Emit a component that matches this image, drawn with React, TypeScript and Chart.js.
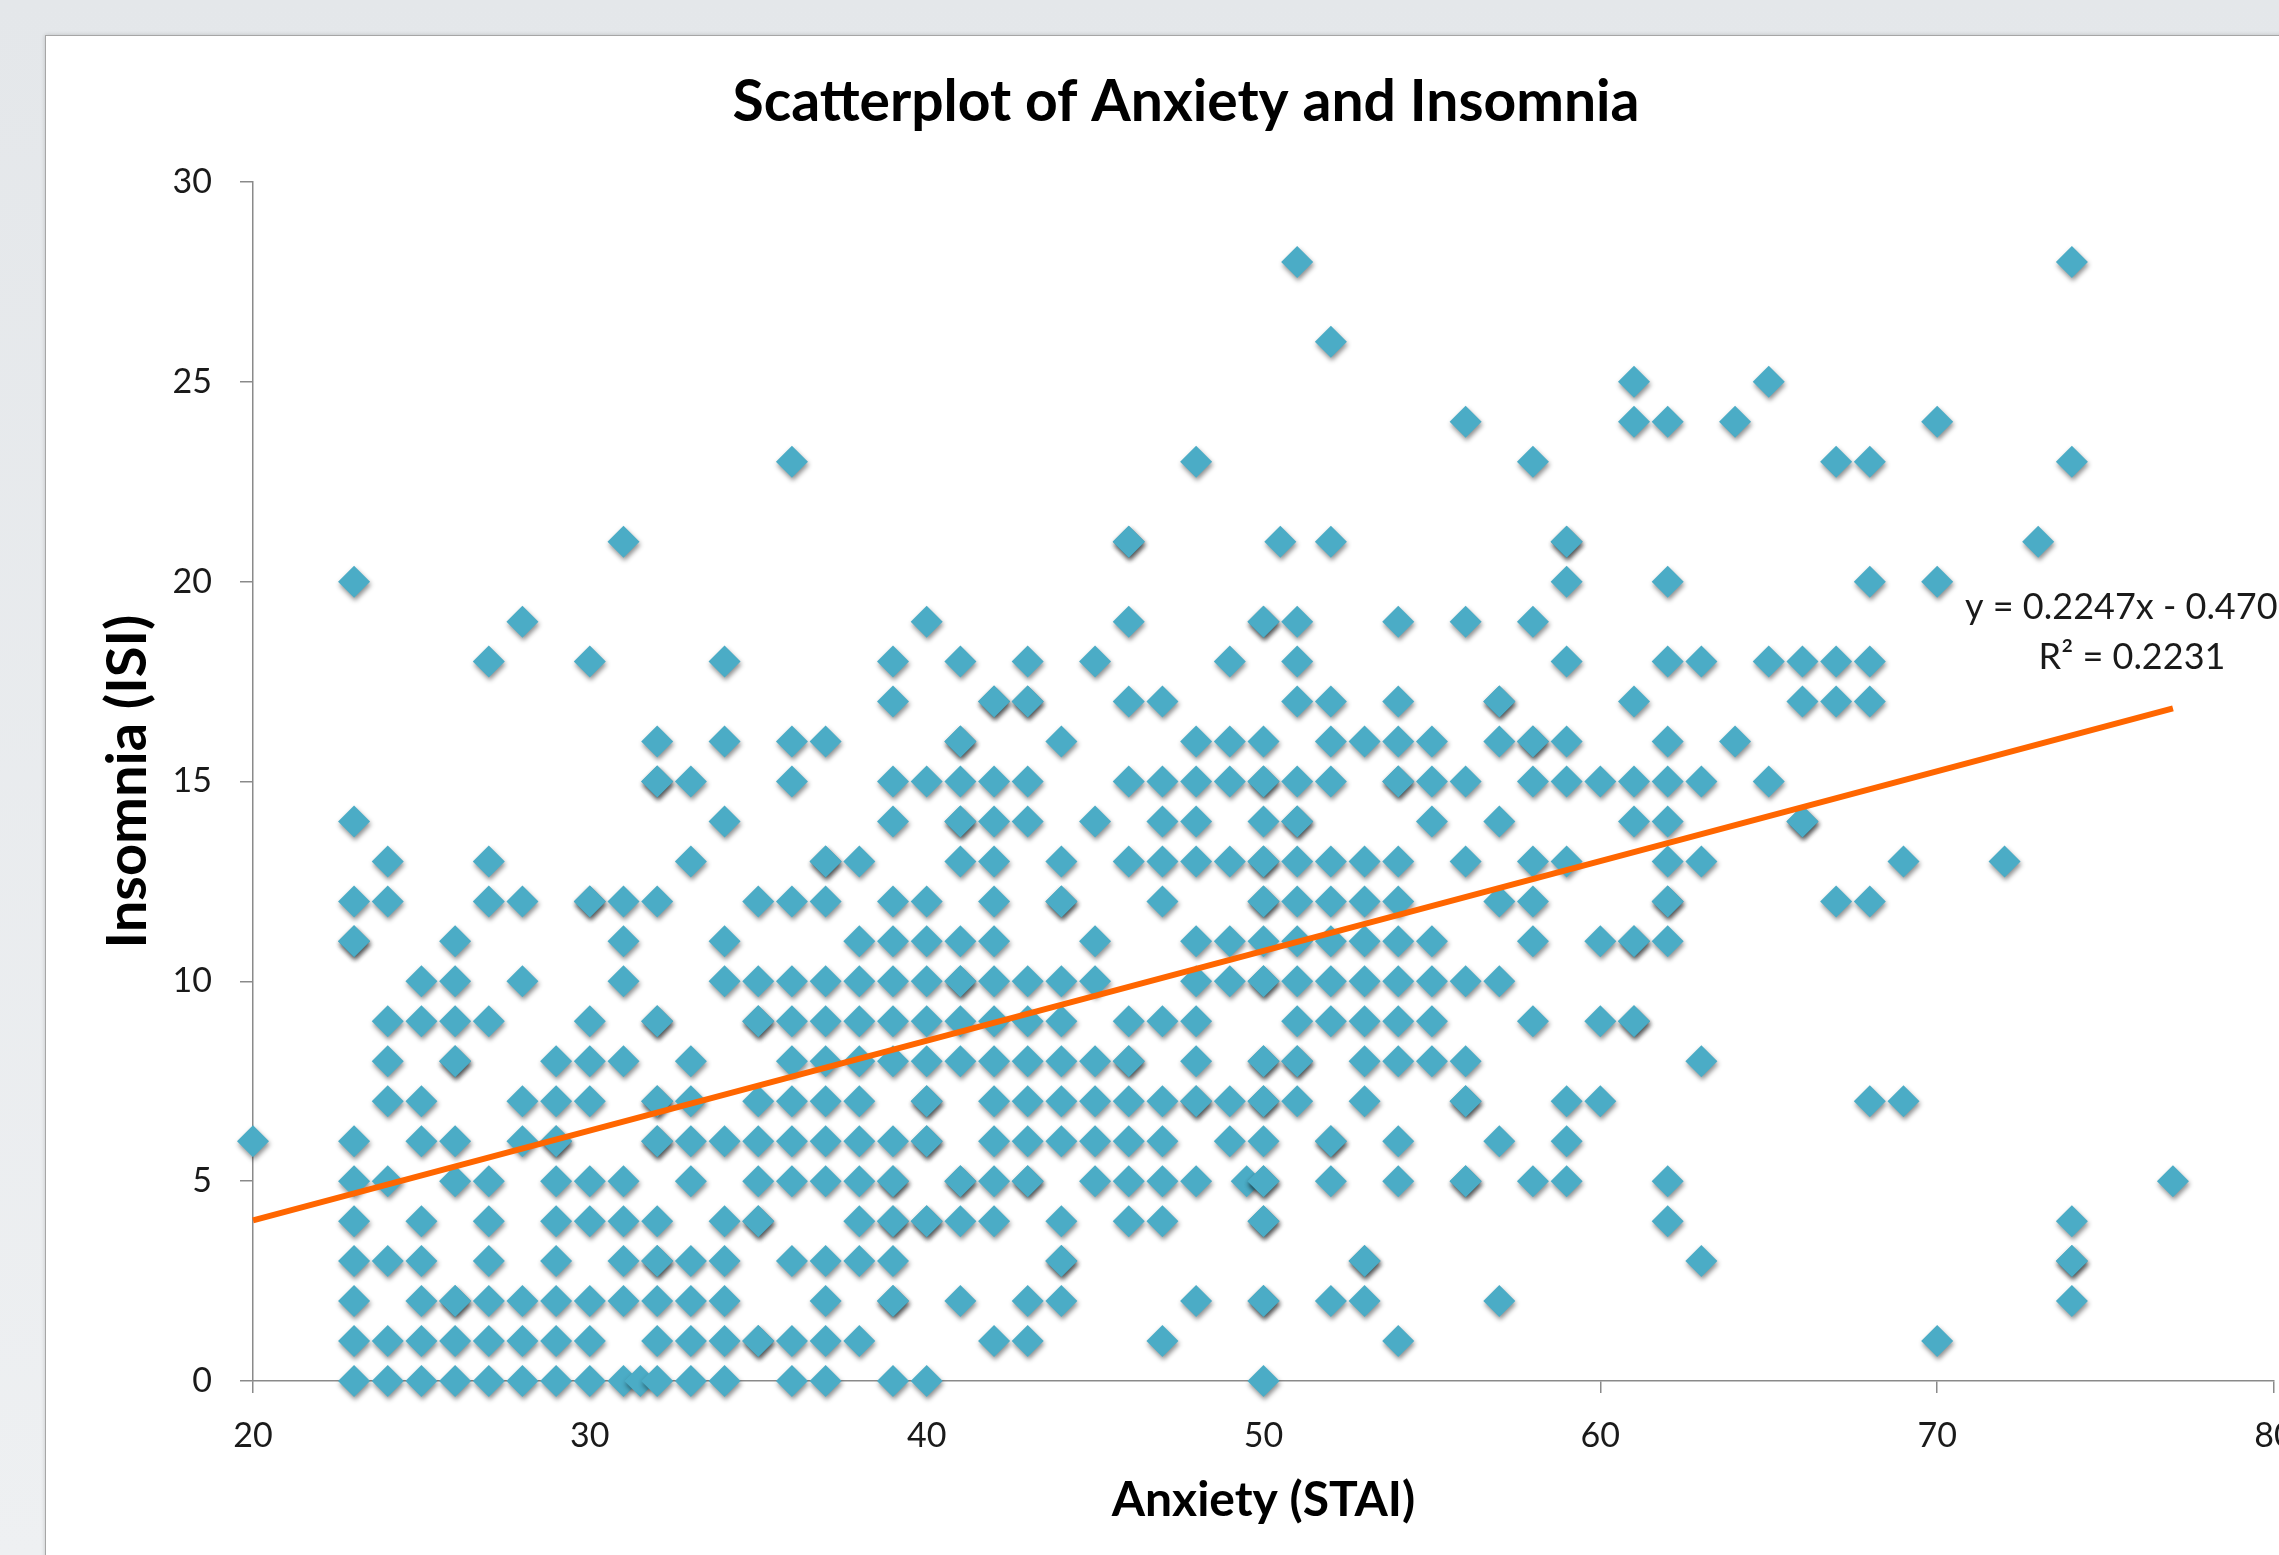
import { useEffect, useRef } from 'react';
import { Chart, registerables } from 'chart.js';

Chart.register(...registerables);

// ---------- data ----------
const chartTitle = 'Scatterplot of Anxiety and Insomnia';
const xAxisTitle = 'Anxiety (STAI)';
const yAxisTitle = 'Insomnia (ISI)';
const trendEquation = 'y = 0.2247x - 0.470';
const trendRSquared = 'R\u00B2 = 0.2231';

// anxiety (STAI) scores, one entry per column of markers
const anxietyScores = [
  20, 23, 24, 25, 26, 27, 28, 29, 30, 31, 31.5, 32, 33, 34, 35, 36, 37, 38, 39, 40,
  41, 42, 43, 44, 45, 46, 47, 48, 49, 49.5, 50, 50.5, 51, 52, 53, 54, 55, 56, 57, 58,
  59, 60, 61, 62, 63, 64, 65, 66, 67, 68, 69, 70, 72, 73, 74, 77,
];

// insomnia (ISI) scores observed at each anxiety score above
const insomniaScores = [
  [6],
  [20, 14, 12, 11, 11, 6, 5, 4, 3, 2, 1, 0],
  [13, 12, 9, 8, 7, 5, 3, 1, 0],
  [10, 9, 7, 6, 4, 3, 2, 1, 0],
  [11, 10, 9, 8, 8, 6, 5, 2, 2, 1, 0],
  [18, 13, 12, 9, 5, 4, 3, 2, 1, 0],
  [19, 12, 10, 7, 6, 2, 1, 0],
  [8, 7, 6, 6, 5, 4, 3, 2, 1, 0],
  [18, 12, 12, 9, 8, 7, 5, 4, 2, 1, 0],
  [21, 12, 11, 10, 8, 5, 4, 3, 2, 0],
  [0],
  [16, 15, 15, 12, 9, 9, 7, 7, 6, 6, 4, 3, 3, 2, 1, 0],
  [15, 13, 8, 7, 6, 5, 3, 2, 1, 0],
  [18, 16, 14, 11, 10, 6, 4, 3, 2, 1, 0],
  [12, 10, 9, 9, 7, 6, 5, 4, 4, 1, 1],
  [23, 16, 15, 12, 10, 9, 8, 7, 6, 5, 3, 1, 0],
  [16, 13, 13, 12, 10, 9, 8, 7, 6, 5, 3, 2, 1, 0],
  [13, 11, 10, 9, 8, 7, 6, 5, 4, 3, 1],
  [18, 17, 15, 14, 12, 11, 10, 9, 8, 6, 5, 5, 4, 4, 3, 2, 2, 0],
  [19, 15, 12, 11, 10, 9, 8, 7, 7, 6, 6, 4, 4, 0],
  [18, 16, 16, 15, 14, 14, 13, 11, 10, 10, 9, 8, 5, 5, 4, 2],
  [17, 17, 15, 14, 13, 12, 11, 10, 9, 8, 7, 6, 5, 4, 1],
  [18, 17, 17, 15, 14, 10, 9, 8, 7, 6, 5, 5, 2, 1],
  [16, 13, 12, 12, 10, 9, 8, 7, 6, 4, 3, 3, 2],
  [18, 14, 11, 10, 8, 7, 6, 5],
  [21, 21, 19, 17, 15, 13, 9, 8, 8, 7, 6, 5, 4],
  [17, 15, 14, 13, 12, 9, 7, 6, 5, 4, 1],
  [23, 16, 15, 14, 13, 11, 10, 9, 8, 7, 7, 5, 2],
  [18, 16, 15, 13, 11, 10, 7, 6],
  [5],
  [19, 19, 16, 15, 15, 14, 13, 13, 12, 12, 11, 10, 10, 8, 8, 7, 7, 6, 5, 5, 4, 4, 2, 2, 0],
  [21],
  [28, 19, 18, 17, 15, 14, 14, 13, 12, 11, 10, 9, 8, 8, 7],
  [26, 21, 17, 16, 15, 13, 12, 11, 10, 9, 6, 6, 5, 2],
  [16, 13, 12, 11, 10, 9, 8, 7, 3, 3, 2],
  [19, 17, 16, 15, 15, 13, 12, 11, 10, 9, 8, 6, 5, 1],
  [16, 15, 14, 11, 10, 9, 8],
  [24, 19, 15, 13, 10, 8, 7, 7, 5, 5],
  [17, 17, 16, 14, 12, 10, 6, 2],
  [23, 19, 16, 16, 15, 13, 12, 11, 9, 5],
  [21, 21, 20, 18, 16, 15, 13, 7, 6, 5],
  [15, 11, 9, 7],
  [25, 24, 17, 15, 14, 11, 11, 9, 9],
  [24, 20, 18, 16, 15, 14, 13, 12, 12, 11, 5, 4],
  [18, 15, 13, 8, 3],
  [24, 16],
  [25, 18, 15],
  [18, 17, 14, 14],
  [23, 18, 17, 12],
  [23, 20, 18, 17, 12, 7],
  [13, 7],
  [24, 20, 1],
  [13],
  [21],
  [28, 23, 4, 3, 3, 2],
  [5],
];

// linear trendline end points
const trendX = [20, 77];
const trendY = [4.02, 16.83];

// axis ranges / ticks
const xRange = [20, 80];
const xStep = 10;
const yRange = [0, 30];
const yStep = 5;

// ---------- styles ----------
const FONT = 'Lato, "Open Sans", "DejaVu Sans", sans-serif';
const MARKER_COLOR = '#4BACC6';
const TREND_COLOR = '#FF6600';
const AXIS_COLOR = '#8a8a8a';
const TEXT_COLOR = '#1a1a1a';

export default function App() {
  const canvasRef = useRef<HTMLCanvasElement | null>(null);

  useEffect(() => {
    const canvas = canvasRef.current;
    if (!canvas) return;

    const points = anxietyScores.flatMap((x, i) =>
      insomniaScores[i].map((y) => ({ x, y }))
    );
    const trend = trendX.map((x, i) => ({ x, y: trendY[i] }));

    const markerShadow = {
      id: 'markerShadow',
      beforeDatasetDraw(chart: any, args: any) {
        if (args.index !== 1) return;
        const ctx = chart.ctx;
        ctx.save();
        ctx.shadowColor = 'rgba(0,0,0,0.45)';
        ctx.shadowBlur = 5;
        ctx.shadowOffsetX = 1;
        ctx.shadowOffsetY = 3;
      },
      afterDatasetDraw(chart: any, args: any) {
        if (args.index !== 1) return;
        chart.ctx.restore();
      },
    };

    const trendLabel = {
      id: 'trendLabel',
      afterDatasetsDraw(chart: any) {
        const ctx = chart.ctx;
        ctx.save();
        ctx.font = `36px ${FONT}`;
        ctx.fillStyle = TEXT_COLOR;
        ctx.textBaseline = 'middle';
        ctx.textAlign = 'left';
        ctx.fillText(trendEquation, 1965, 607);
        ctx.textAlign = 'center';
        ctx.fillText(trendRSquared, 2132, 657);
        ctx.restore();
      },
    };

    const chart = new Chart(canvas, {
      type: 'scatter',
      data: {
        datasets: [
          {
            label: 'Linear trend',
            data: trend,
            showLine: true,
            borderColor: TREND_COLOR,
            borderWidth: 6,
            pointRadius: 0,
            fill: false,
            clip: false as any,
          } as any,
          {
            label: 'Insomnia',
            data: points,
            pointStyle: 'rectRot',
            pointRadius: 16,
            pointBackgroundColor: MARKER_COLOR,
            pointBorderWidth: 0,
            showLine: false,
            clip: false as any,
          } as any,
        ],
      },
      options: {
        responsive: false,
        animation: false,
        devicePixelRatio: 1,
        events: [],
        layout: { autoPadding: false, padding: { left: 98, right: 5, top: 0, bottom: 0 } },
        plugins: {
          legend: { display: false },
          tooltip: { enabled: false },
          title: {
            display: true,
            text: chartTitle,
            color: '#000',
            font: { family: FONT, size: 57, weight: 'bold', lineHeight: 1.2 },
            padding: { top: 68, bottom: 45.6 },
          },
        },
        scales: {
          x: {
            type: 'linear',
            min: xRange[0],
            max: xRange[1],
            ticks: {
              stepSize: xStep,
              autoSkip: false,
              maxRotation: 0,
              color: TEXT_COLOR,
              padding: 23,
              font: { family: FONT, size: 34 },
            },
            grid: {
              drawOnChartArea: false,
              drawTicks: true,
              tickLength: 12,
              color: AXIS_COLOR,
              lineWidth: 1.5,
            },
            border: { display: true, color: AXIS_COLOR, width: 1.5 },
            title: {
              display: true,
              text: xAxisTitle,
              color: '#000',
              font: { family: FONT, size: 48, weight: 'bold', lineHeight: 1.2 },
              padding: { top: 0, bottom: 25.2 },
            },
            afterFit: (s: any) => {
              s.height = 174;
              s.paddingLeft = 0;
              s.paddingRight = 0;
            },
          },
          y: {
            type: 'linear',
            min: yRange[0],
            max: yRange[1],
            ticks: {
              stepSize: yStep,
              color: TEXT_COLOR,
              padding: 28,
              font: { family: FONT, size: 34 },
            },
            grid: {
              drawOnChartArea: false,
              drawTicks: true,
              tickLength: 13,
              color: AXIS_COLOR,
              lineWidth: 1.5,
            },
            border: { display: true, color: AXIS_COLOR, width: 1.5 },
            title: {
              display: true,
              text: yAxisTitle,
              color: '#000',
              font: { family: FONT, size: 56, weight: 'bold', lineHeight: 1 },
              padding: { top: 2, bottom: 0 },
            },
            afterFit: (s: any) => {
              s.width = 155;
              s.paddingTop = 0;
              s.paddingBottom = 0;
            },
          },
        },
      } as any,
      plugins: [markerShadow, trendLabel],
    });

    return () => chart.destroy();
  }, []);

  return (
    <div
      style={{
        position: 'fixed',
        left: 0,
        top: 0,
        width: 2279,
        height: 1555,
        overflow: 'hidden',
        background: 'linear-gradient(#e4e7ea, #eef0f2)',
      }}
    >
      <div
        style={{
          position: 'absolute',
          left: 45,
          top: 35,
          width: 2400,
          height: 1600,
          background: '#ffffff',
          border: '1.5px solid #a6a6a6',
          boxShadow: '0 0 4px rgba(0,0,0,0.18)',
        }}
      />
      <canvas
        ref={canvasRef}
        width={2279}
        height={1555}
        style={{ position: 'absolute', left: 0, top: 0, width: 2279, height: 1555 }}
      />
    </div>
  );
}
